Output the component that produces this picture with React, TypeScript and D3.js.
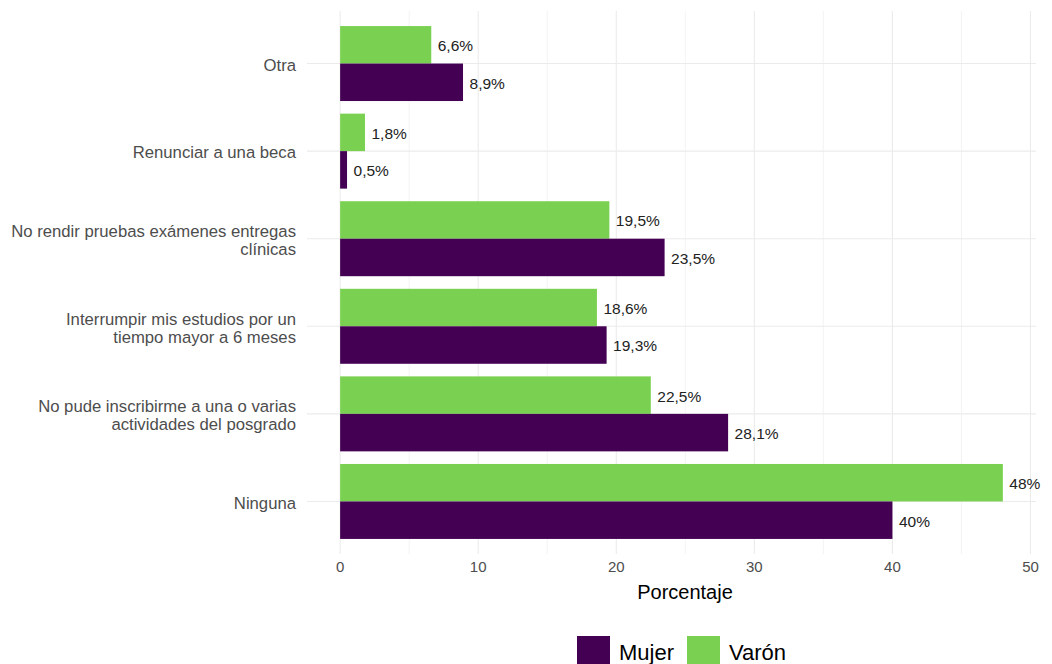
import React from "react";
import * as d3 from "d3";

const categories = [
  "Otra",
  "Renunciar a una beca",
  "No rendir pruebas exámenes entregas clínicas",
  "Interrumpir mis estudios por un tiempo mayor a 6 meses",
  "No pude inscribirme a una o varias actividades del posgrado",
  "Ninguna",
];
const categoryLines = [
  ["Otra"],
  ["Renunciar a una beca"],
  ["No rendir pruebas exámenes entregas", "clínicas"],
  ["Interrumpir mis estudios por un", "tiempo mayor a 6 meses"],
  ["No pude inscribirme a una o varias", "actividades del posgrado"],
  ["Ninguna"],
];
const mujerValues = [8.9, 0.5, 23.5, 19.3, 28.1, 40];
const varonValues = [6.6, 1.8, 19.5, 18.6, 22.5, 48];
const series = ["Mujer", "Varón"];
const seriesColors = ["#440154", "#7AD151"];
const xTicks = [0, 10, 20, 30, 40, 50];
const xMinor = [5, 15, 25, 35, 45];

const W = 1052;
const H = 664;
const FONT = "'Liberation Sans', Arial, sans-serif";

function fmt(v: number) {
  const s = Number.isInteger(v) ? String(v) : v.toFixed(1).replace(".", ",");
  return s + "%";
}

export default function App() {
  const panelLeft = 307;
  const panelRight = 1036;
  const panelTop = 11;
  const panelBottom = 554;

  const x = d3.scaleLinear().domain([-2.4, 50.4]).range([panelLeft, panelRight]);
  const y = d3
    .scalePoint<string>()
    .domain(categories)
    .range([panelTop, panelBottom])
    .padding(0.6);
  const step = y.step();
  const barH = step * 0.428;

  return (
    <svg
      width={W}
      height={H}
      style={{ position: "absolute", left: 0, top: 0, background: "#fff" }}
      fontFamily={FONT}
    >
      {xMinor.map((t) => (
        <line key={"mn" + t} x1={x(t)} x2={x(t)} y1={panelTop} y2={panelBottom} stroke="#EBEBEB" strokeWidth={0.6} />
      ))}
      {xTicks.map((t) => (
        <line key={"mj" + t} x1={x(t)} x2={x(t)} y1={panelTop} y2={panelBottom} stroke="#EBEBEB" strokeWidth={1.1} />
      ))}
      {categories.map((c) => (
        <line key={"hg" + c} x1={panelLeft} x2={panelRight} y1={y(c)!} y2={y(c)!} stroke="#EBEBEB" strokeWidth={1.1} />
      ))}
      {categories.map((c, i) => {
        const cy = y(c)!;
        return (
          <g key={"b" + c}>
            <rect x={x(0)} y={cy - barH} width={x(varonValues[i]) - x(0)} height={barH} fill={seriesColors[1]} />
            <rect x={x(0)} y={cy} width={x(mujerValues[i]) - x(0)} height={barH} fill={seriesColors[0]} />
            <text x={x(varonValues[i]) + 6.5} y={cy - barH / 2 + 1} dy="0.35em" fontSize={15.5} fill="#222">
              {fmt(varonValues[i])}
            </text>
            <text x={x(mujerValues[i]) + 6.5} y={cy + barH / 2 + 1} dy="0.35em" fontSize={15.5} fill="#222">
              {fmt(mujerValues[i])}
            </text>
          </g>
        );
      })}
      {categories.map((c, i) => {
        const lines = categoryLines[i];
        const lh = 18;
        const cy = y(c)! + 1.5;
        return (
          <text key={"yl" + c} textAnchor="end" fontSize={16.7} fill="#4D4D4D">
            {lines.map((l, j) => (
              <tspan key={j} x={296} y={cy + (j - (lines.length - 1) / 2) * lh} dy="0.35em">
                {l}
              </tspan>
            ))}
          </text>
        );
      })}
      {xTicks.map((t) => (
        <text key={"xt" + t} x={x(t)} y={567} dy="0.35em" textAnchor="middle" fontSize={15} fill="#4D4D4D">
          {t}
        </text>
      ))}
      <text x={685} y={592} dy="0.35em" textAnchor="middle" fontSize={20} fill="#000">
        Porcentaje
      </text>
      {series.map((s, i) => {
        const kx = [577, 687][i];
        return (
          <g key={"lg" + s}>
            <rect x={kx} y={636} width={33} height={34} fill={seriesColors[i]} />
            <text x={kx + 42} y={652} dy="0.35em" fontSize={22} fill="#000">
              {s}
            </text>
          </g>
        );
      })}
    </svg>
  );
}
